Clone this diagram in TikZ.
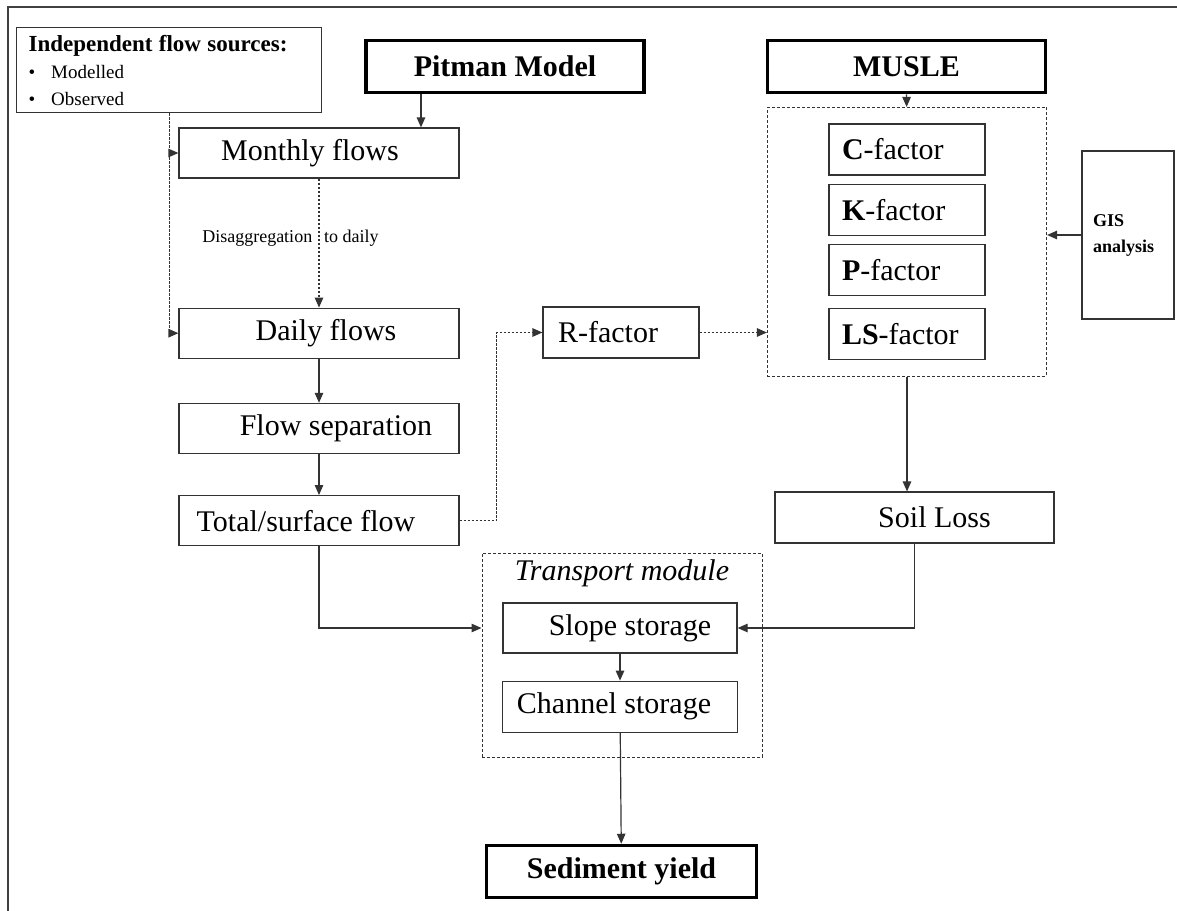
\documentclass[tikz,border=0pt]{standalone}
\usepackage{fontspec}
\setmainfont{Liberation Serif}
\usetikzlibrary{positioning, arrows.meta, fit, calc}

\begin{document}
\begin{tikzpicture}[
    x=1pt, y=-1pt,
    node distance=8pt,
    font=\fontsize{30}{36}\selectfont,
    block/.style={draw=black!80, line width=1.2pt, rectangle, minimum height=50pt, minimum width=280pt, inner sep=0pt, align=center},
    thickblock/.style={block, draw=black, line width=3.5pt, minimum height=52pt, minimum width=278pt, font=\fontsize{30}{36}\selectfont\bfseries},
    factor/.style={block, minimum width=156pt, minimum height=51pt, text width=130pt, align=left},
    dashbox/.style={draw=black!80, line width=1pt, dash pattern=on 3pt off 2pt, rectangle, inner sep=0pt},
    arrow/.style={draw=black!80, line width=1.2pt, -{Triangle[length=10pt,width=8.5pt]}},
    dasharrow/.style={arrow, dash pattern=on 2.5pt off 1.5pt},
    smalltext/.style={font=\fontsize{18}{22}\selectfont}
]
\useasboundingbox (0,0) rectangle (1177,910);

% Frame
\draw[line width=2pt, black!75] (8,915) -- (8,7) -- (1180,7);

% Nodes
\node (indep) [block, anchor=north west, minimum width=305pt, minimum height=85pt, text width=281pt, align=left, font=\fontsize{19}{27}\selectfont] at (16,27)
    {{\fontsize{23}{28}\selectfont\bfseries Independent flow sources:}\\
     \textbullet\hspace{16pt}Modelled\\
     \textbullet\hspace{16pt}Observed};
\node (pitman) [thickblock] at (505,66.5) {Pitman Model};
\node (musle) [thickblock] at (906.5,66.5) {MUSLE};
\node (monthly) [block] at (319,153) {Monthly flows\hspace*{18pt}};
\node (daily) [block, below=129pt of monthly] {\hspace*{14pt}Daily flows};
\node (flowsep) [block, below=44pt of daily] {\hspace*{34pt}Flow separation};
\node (total) [block, below=41pt of flowsep] {Total/surface flow\hspace*{26pt}};
\node (rfactor) [block, minimum width=156pt, minimum height=51pt] at (621,332.5) {R-factor\hspace*{26pt}};
\node (cfac) [factor] at (907,149.5) {\textbf{C}-factor};
\node (kfac) [factor, below=of cfac] {\textbf{K}-factor};
\node (pfac) [factor, below=of kfac] {\textbf{P}-factor};
\node (lsfac) [factor, below=12pt of pfac] {\textbf{LS}-factor};
\node (musbox) [dashbox, fit=(cfac)(lsfac), inner xsep=61pt, inner ysep=16pt] {};
\node (gis) [block, minimum width=92pt, minimum height=168pt, text width=70pt, align=left, font=\fontsize{18}{26}\selectfont\bfseries] at (1128,235) {GIS\\analysis};
\node (soil) [block, minimum width=279pt, minimum height=51pt] at (914.5,517.5) {\hspace*{40pt}Soil Loss};
\node (trans) [dashbox, minimum width=280pt, minimum height=204pt] at (622,655) {};
\node (trtitle) at (622,573) {\itshape Transport module};
\node (slope) [block, minimum width=234pt] at (620,628) {\hspace*{20pt}Slope storage};
\node (channel) [block, minimum width=235pt, minimum height=51pt, below=27pt of slope] {Channel storage\hspace*{12pt}};
\node (sediment) [thickblock, minimum width=270pt] at (621.5,871.5) {Sediment yield};

% Links
\draw[arrow] ([xshift=-84pt]pitman.south) -- ([xshift=-84pt]pitman.south |- monthly.north);
\draw[dasharrow] (indep.south) |- (daily.west);
\draw[dasharrow] (indep.south |- monthly.west) -- (monthly.west);
\draw[dasharrow] (monthly) -- node[smalltext, xshift=-28.5pt, yshift=5pt] {Disaggregation\hspace{12pt}to daily} (daily);
\draw[arrow] (daily) -- (flowsep);
\draw[arrow] (flowsep) -- (total);
\draw[dasharrow] (total.east) -- ++(37,0) |- (rfactor.west);
\draw[dasharrow] (rfactor.east) -- (rfactor.east -| musbox.west);
\draw[arrow] (musle) -- (musbox);
\draw[arrow] (gis.west) -- (gis.west -| musbox.east);
\draw[arrow] (musbox.south) -- (musbox.south |- soil.north);
\draw[arrow] (soil.south) |- (slope.east);
\draw[arrow] (total.south) |- (slope.west -| trans.west);
\draw[arrow] (slope) -- (channel);
\draw[arrow] (channel) -- (sediment);

\end{tikzpicture}
\end{document}
